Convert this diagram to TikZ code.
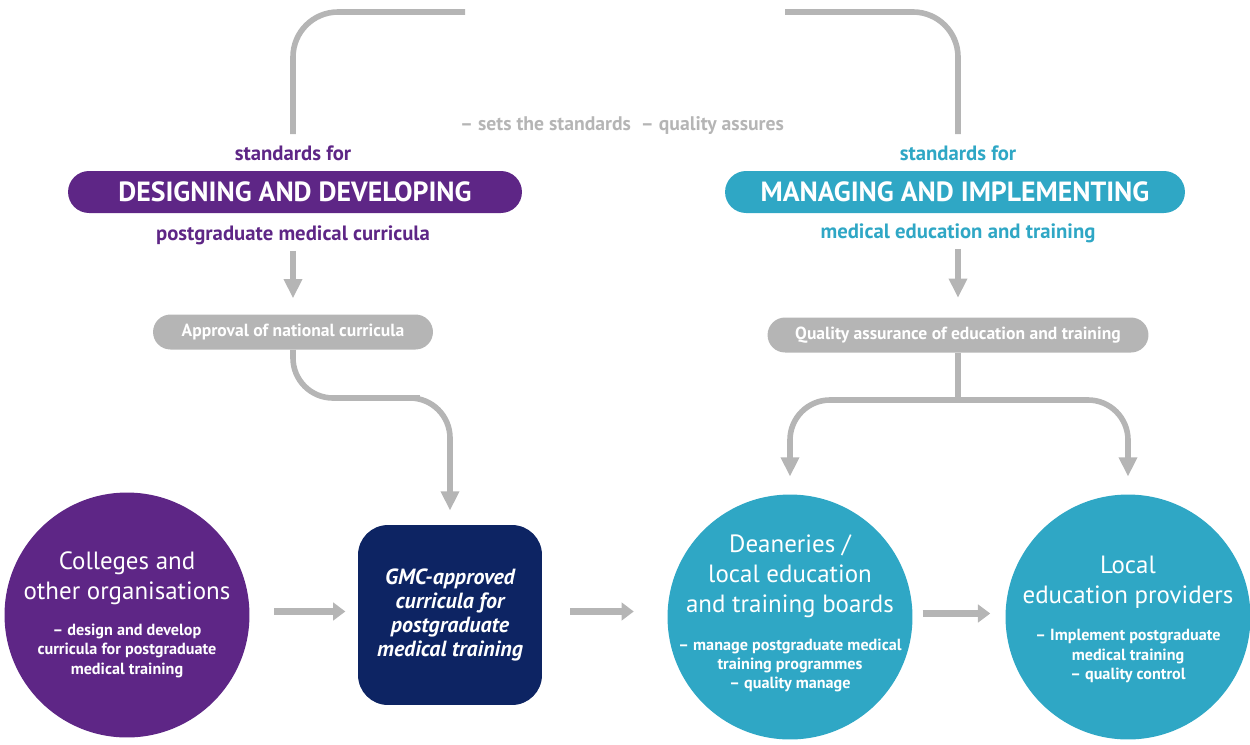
\documentclass[tikz,border=0pt]{standalone}
\usepackage{fontspec}
\setmainfont{PT Sans}
\usetikzlibrary{arrows.meta,positioning,shapes}

\definecolor{gmcpurple}{HTML}{5E2686}
\definecolor{gmcnavy}{HTML}{0D2463}
\definecolor{gmcteal}{HTML}{2FA7C5}
\definecolor{linegray}{HTML}{B5B5B5}

\tikzset{
  flowline/.style={draw=linegray,line width=3.2pt},
  flowarrow/.style={flowline,-{Triangle[length=11pt,width=10pt]}},
  blockarrow/.style={draw=linegray,line width=4.2pt,-{Triangle[length=7pt,width=10pt]}},
  pill/.style={rounded corners=0.42cm,minimum height=0.84cm,text=white,font=\bfseries\fontsize{15.8}{18}\selectfont},
  graypill/.style={fill=linegray,rounded corners=0.35cm,minimum height=0.7cm,text=white,font=\bfseries\fontsize{10}{12}\selectfont},
  disc/.style={circle,minimum size=4.9cm,inner sep=0pt},
  bigtxt/.style={text=white,align=center,font=\fontsize{14.2}{17}\selectfont},
  subtxt/.style={text=white,align=center,font=\bfseries\fontsize{9.2}{11}\selectfont},
  stdtxt/.style={font=\bfseries\fontsize{11.8}{13}\selectfont}
}

\begin{document}
\begin{tikzpicture}[x=0.02cm,y=-0.02cm]
  \useasboundingbox (0,0) rectangle (1250,744);

  % standards for designing
  \node[stdtxt,text=gmcpurple] (stdL) at (293,153) {standards for};
  \node[pill,fill=gmcpurple,minimum width=9.08cm] (design) at (295,192) {DESIGNING AND DEVELOPING};
  \node[stdtxt,text=gmcpurple] (curricL) at (293,235) {postgraduate medical curricula};
  \node[graypill,minimum width=5.6cm] (approval) at (293,332) {Approval of national curricula};

  % standards for managing
  \node[stdtxt,text=gmcteal] (stdR) at (958,153) {standards for};
  \node[pill,fill=gmcteal,minimum width=9.2cm] (manage) at (955,192) {MANAGING AND IMPLEMENTING};
  \node[stdtxt,text=gmcteal] (medR) at (958,233) {medical education and training};
  \node[graypill,minimum width=7.62cm] (quality) at (958,335) {Quality assurance of education and training};

  \node[stdtxt,text=linegray,font=\bfseries\fontsize{11.2}{13}\selectfont] (assures) at (622,126) {– sets the standards \ – quality assures};

  % bottom row
  \node[disc,fill=gmcpurple] (colleges) at (127,615) {};
  \node[bigtxt] (collegesT) at (127,578) {Colleges and\\other organisations};
  \node[subtxt,below=4pt of collegesT] (collegesS) {– design and develop\\curricula for postgraduate\\medical training};

  \node[fill=gmcnavy,rounded corners=0.6cm,minimum width=3.68cm,minimum height=3.6cm,
        text=white,align=center,font=\bfseries\itshape\fontsize{12.5}{13.8}\selectfont] (gmc) at (450,615)
        {GMC-approved\\curricula for\\postgraduate\\medical training};

  \node[disc,fill=gmcteal] (deaneries) at (790,617) {};
  \node[bigtxt] (deaneriesT) at (790,576) {Deaneries /\\local education\\and training boards};
  \node[subtxt,below=5pt of deaneriesT] (deaneriesS) {– manage postgraduate medical\\training programmes\\– quality manage};

  \node[disc,fill=gmcteal] (providers) at (1128,617) {};
  \node[bigtxt] (providersT) at (1128,582) {Local\\education providers};
  \node[subtxt,below=5pt of providersT] (providersS) {– Implement postgraduate\\medical training\\– quality control};

  % connectors
  \coordinate (topL) at (465,12);
  \coordinate (topR) at (785,12);
  \coordinate (bendL) at (380,398);
  \coordinate (split) at (958,400);
  \draw[flowline,rounded corners=0.9cm] ([yshift=3pt]stdL.north) |- (topL);
  \draw[flowline,rounded corners=0.9cm] (topR) -| ([yshift=3pt]stdR.north);
  \draw[flowarrow] (curricL.south) -- ([yshift=9pt]approval.north);
  \draw[flowarrow] (medR.south) -- ([yshift=11pt]quality.north);
  \draw[flowarrow,rounded corners=0.8cm] (approval.south) |- (bendL) -| ([yshift=8pt]gmc.north);
  \draw[flowline] (quality.south) -- (split);
  \draw[flowarrow,rounded corners=0.8cm] (split) -| ([yshift=10pt]deaneries.north);
  \draw[flowarrow,rounded corners=0.8cm] (split) -| ([yshift=10pt]providers.north);

  \draw[blockarrow,shorten <=14pt,shorten >=7pt] ([yshift=2pt]colleges.east) -- ([yshift=2pt]colleges.east -| gmc.west);
  \draw[blockarrow,shorten <=16pt,shorten >=19pt] ([yshift=2pt]gmc.east) -- ([yshift=2pt]gmc.east -| deaneries.west);
  \draw[blockarrow,shorten <=5.5pt,shorten >=8.5pt] ([yshift=2pt]deaneries.east) -- ([yshift=2pt]deaneries.east -| providers.west);
\end{tikzpicture}
\end{document}
